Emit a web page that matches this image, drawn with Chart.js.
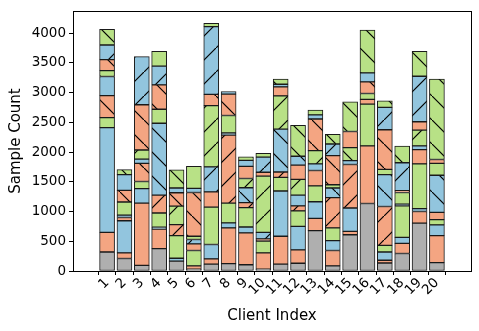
<!DOCTYPE html>
<html lang="en">
<head>
<meta charset="UTF-8">
<title>Sample Count per Client</title>
<script src="https://cdn.jsdelivr.net/npm/chart.js"></script>
<style>
  html, body { margin: 0; padding: 0; background: #fff; }
  #box { position: relative; width: 479px; height: 331px; }
</style>
</head>
<body>
<div id="box"><canvas id="myChart"></canvas></div>
<script>
// client labels on the x axis
const clients = ['1','2','3','4','5','6','7','8','9','10','11','12','13','14','15','16','17','18','19','20'];
const yTicks = [0, 500, 1000, 1500, 2000, 2500, 3000, 3500, 4000];

// segment sizes of each bar, bottom to top
const client1  = [320, 330, 1760, 170, 370, 320, 100, 185, 245, 265];
const client2  = [210, 95, 540, 55, 40, 220, 195, 265, 85];
const client3  = [95, 1045, 245, 120, 305, 70, 155, 760, 810];
const client4  = [375, 330, 30, 240, 300, 1210, 235, 410, 315, 250];
const client5  = [165, 50, 380, 185, 310, 225, 80, 305];
const client6  = [30, 55, 260, 110, 75, 55, 735, 70, 370];
const client7  = [115, 90, 240, 630, 255, 420, 1030, 190, 1140, 55];
const client8  = [125, 600, 85, 330, 1145, 35, 295, 360, 40];
const client9  = [105, 535, 100, 325, 85, 250, 155, 205, 100, 60];
const client10 = [30, 275, 200, 35, 110, 945, 65, 255, 65];
const client11 = [115, 470, 760, 230, 90, 720, 560, 150, 45, 85];
const client12 = [130, 225, 395, 260, 85, 180, 265, 240, 150, 520];
const client13 = [680, 205, 280, 265, 260, 110, 225, 530, 70, 80];
const client14 = [85, 260, 165, 215, 510, 160, 55, 490, 195, 165];
const client15 = [610, 55, 395, 730, 65, 220, 270, 500];
const client16 = [1135, 970, 700, 80, 100, 195, 150, 720];
const client17 = [135, 45, 140, 110, 655, 535, 90, 665, 375, 110];
const client18 = [295, 170, 100, 530, 30, 195, 30, 470, 280];
const client19 = [805, 195, 50, 750, 240, 65, 265, 140, 765, 420];
const client20 = [140, 455, 180, 90, 120, 625, 200, 65, 1350];

// segment kind: G gray, S salmon, B blue, L green; "/" or "\" = hatched
const kind1  = ['G','S','B','L','S\\','B','L\\','S\\','B/','L\\'];
const kind2  = ['G','S','B','S','B','L','S\\','B','L\\'];
const kind3  = ['G','S','B','L','S\\','B','L/','S\\','B/'];
const kind4  = ['G','S','B','L','S/','B\\','L','S\\','B/','L'];
const kind5  = ['G','B','L','S/','L/','S\\','B','L\\'];
const kind6  = ['G','S','L','S','B/','L','S\\','B','L'];
const kind7  = ['G','S','B','L','S','B/','L/','S\\','B/','L'];
const kind8  = ['G','S','B','L','S/','B','L','S\\','B'];
const kind9  = ['G','S','B','L','S/','B\\','L/','S','B','L\\'];
const kind10 = ['G','S','L','S','B/','L/','S','B/','L\\'];
const kind11 = ['G','S','B','L','S/','B\\','L/','S','B','L\\'];
const kind12 = ['G','S','B','L','S/','B','L/','S','B\\','L\\'];
const kind13 = ['G','S','B','L','S','B','L/','S\\','B','L'];
const kind14 = ['G','S','B','L','S/','B\\','L','S\\','B/','L\\'];
const kind15 = ['G','S','B','S/','B','L\\','S','L\\'];
const kind16 = ['G','S','L','S','L','S\\','B/','L\\'];
const kind17 = ['G','S','B','L','S/','B\\','L','S\\','B/','L\\'];
const kind18 = ['G','S','B','L','B','L','S','B/','L\\'];
const kind19 = ['G','S','B','L','S','B','L/','S','B/','L\\'];
const kind20 = ['G','S','B','L','S','B\\','L','S','L\\'];

const sizes = [client1, client2, client3, client4, client5, client6, client7, client8, client9, client10,
               client11, client12, client13, client14, client15, client16, client17, client18, client19, client20];
const kinds = [kind1, kind2, kind3, kind4, kind5, kind6, kind7, kind8, kind9, kind10,
               kind11, kind12, kind13, kind14, kind15, kind16, kind17, kind18, kind19, kind20];

const colors = { G: '#afafaf', S: '#f4a582', B: '#92c5de', L: '#b8e186' };

// hatch patterns, made once per colour/direction
var patternCache = {};
function fillFor(code) {
  if (patternCache[code]) return patternCache[code];
  var base = colors[code[0]];
  if (code.length == 1) { patternCache[code] = base; return base; }
  var t = 24;
  var c = document.createElement('canvas');
  c.width = t; c.height = t;
  var g = c.getContext('2d');
  g.fillStyle = base;
  g.fillRect(0, 0, t, t);
  g.strokeStyle = '#000';
  g.lineWidth = 1.2;
  g.beginPath();
  if (code[1] == '/') { g.moveTo(-2, t + 2); g.lineTo(t + 2, -2); }
  else { g.moveTo(-2, -2); g.lineTo(t + 2, t + 2); }
  g.stroke();
  var p = g.createPattern(c, 'repeat');
  patternCache[code] = p;
  return p;
}

var maxSeg = 0;
for (var i = 0; i < sizes.length; i++) { if (sizes[i].length > maxSeg) maxSeg = sizes[i].length; }

var datasets = [];
for (var j = 0; j < maxSeg; j++) {
  (function (j) {
    datasets.push({
      label: 'part ' + (j + 1),
      data: clients.map(function (c, i) { return { x: i, y: sizes[i][j] !== undefined ? sizes[i][j] : null }; }),
      backgroundColor: function (ctx) {
        var k = kinds[ctx.dataIndex] ? kinds[ctx.dataIndex][j] : null;
        return k ? fillFor(k) : 'rgba(0,0,0,0)';
      },
      borderColor: '#1a1a1a',
      borderWidth: 1,
      borderSkipped: false,
      barThickness: 15,
      stack: 's'
    });
  })(j);
}

// top and right spines
const frame = {
  id: 'frame',
  afterDraw: function (chart) {
    var a = chart.chartArea, g = chart.ctx;
    g.save();
    g.strokeStyle = '#000';
    g.lineWidth = 1;
    g.strokeRect(Math.round(a.left) + 0.5, Math.round(a.top) + 0.5, Math.round(a.right - a.left), Math.round(a.bottom - a.top));
    g.restore();
  }
};

const tickFont = { family: 'DejaVu Sans', size: 13.5 };
const titleFont = { family: 'DejaVu Sans', size: 15 };

new Chart(document.getElementById('myChart'), {
  type: 'bar',
  data: { datasets: datasets },
  options: {
    responsive: true,
    maintainAspectRatio: false,
    animation: false,
    layout: { padding: { top: 8, right: 8, left: 7, bottom: 6 } },
    plugins: { legend: { display: false }, tooltip: { enabled: false } },
    scales: {
      x: {
        type: 'linear',
        stacked: true,
        min: -1.39,
        max: 20.39,
        afterBuildTicks: function (scale) {
          scale.ticks = clients.map(function (c, i) { return { value: i }; });
        },
        afterFit: function (scale) { scale.height = 54; },
        ticks: {
          autoSkip: false,
          minRotation: 45,
          maxRotation: 45,
          padding: 0,
          color: '#000',
          font: tickFont,
          callback: function (v) { return clients[v]; }
        },
        grid: { drawOnChartArea: false, tickLength: 4, color: '#000' },
        border: { color: '#000', width: 1 },
        title: { display: true, text: 'Client Index', color: '#000', font: titleFont, padding: { top: 0, bottom: 0 } }
      },
      y: {
        stacked: true,
        min: 0,
        max: 4370,
        afterBuildTicks: function (scale) {
          scale.ticks = yTicks.map(function (v) { return { value: v }; });
        },
        afterFit: function (scale) { scale.width = 66; },
        ticks: { color: '#000', font: tickFont, padding: 3, callback: function (v) { return String(v); } },
        grid: { drawOnChartArea: false, tickLength: 4, color: '#000' },
        border: { color: '#000', width: 1 },
        title: { display: true, text: 'Sample Count', color: '#000', font: titleFont, padding: { top: 0, bottom: 0 } }
      }
    }
  },
  plugins: [frame]
});
</script>
</body>
</html>
